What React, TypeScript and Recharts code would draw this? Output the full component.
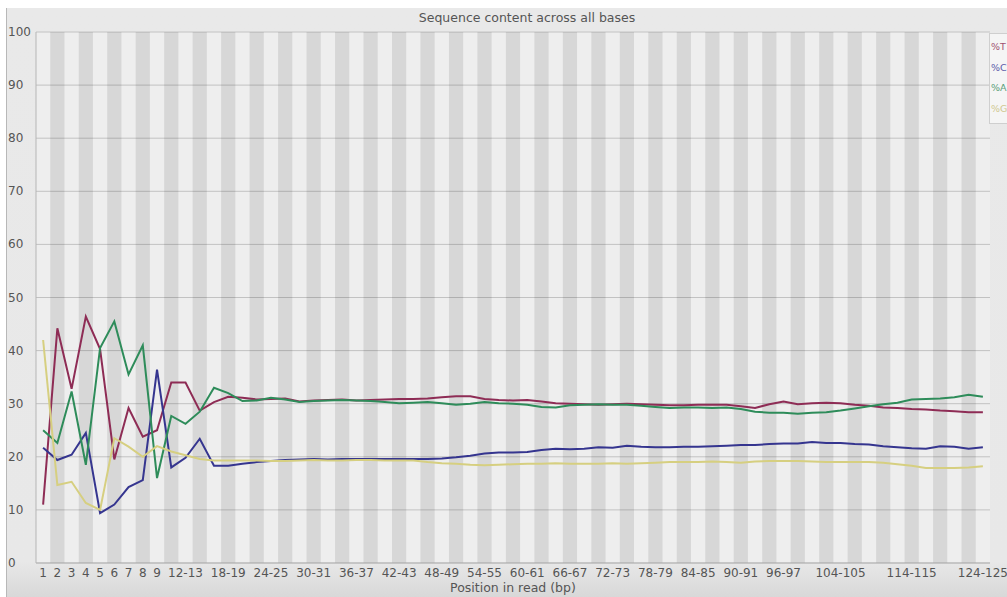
import { LineChart, Line, XAxis, YAxis, CartesianGrid, ReferenceArea, Legend } from 'recharts'

// FastQC style position groups: 1..9 single, then pairs up to 124-125
const categories = [
  '1', '2', '3', '4', '5', '6', '7', '8', '9',
  '10-11', '12-13', '14-15', '16-17', '18-19', '20-21', '22-23', '24-25', '26-27', '28-29',
  '30-31', '32-33', '34-35', '36-37', '38-39', '40-41', '42-43', '44-45', '46-47', '48-49',
  '50-51', '52-53', '54-55', '56-57', '58-59', '60-61', '62-63', '64-65', '66-67', '68-69',
  '70-71', '72-73', '74-75', '76-77', '78-79', '80-81', '82-83', '84-85', '86-87', '88-89',
  '90-91', '92-93', '94-95', '96-97', '98-99', '100-101', '102-103', '104-105', '106-107',
  '108-109', '110-111', '112-113', '114-115', '116-117', '118-119', '120-121', '122-123', '124-125',
]

// which categories get a label on the x axis
const labelledCategories = [0, 1, 2, 3, 4, 5, 6, 7, 8, 10, 13, 16, 19, 22, 25, 28, 31, 34, 37, 40, 43, 46, 49, 52, 56, 61, 66]
const yTicks = [0, 10, 20, 30, 40, 50, 60, 70, 80, 90, 100]

const tValues = [
  11, 44.2, 32.8, 46.4, 40.3, 19.5, 29.2, 23.8, 25, 34, 34, 28.7, 30.3, 31.3,
  31.1, 30.8, 30.9, 31.0, 30.4, 30.6, 30.7, 30.8, 30.6, 30.7, 30.8, 30.9, 30.9, 31.0, 31.2, 31.4,
  31.4, 30.9, 30.7, 30.6, 30.7, 30.4, 30.1, 30.0, 29.9, 29.8, 29.9, 30.0, 29.9, 29.8, 29.7, 29.7,
  29.8, 29.8, 29.8, 29.5, 29.2, 29.9, 30.4, 29.9, 30.1, 30.2, 30.1, 29.8, 29.6, 29.3, 29.2, 29.0,
  28.9, 28.7, 28.6, 28.4, 28.4,
]
const cValues = [
  21.7, 19.4, 20.4, 24.5, 9.4, 11, 14.3, 15.6, 36.4, 18, 19.8, 23.4, 18.3, 18.3,
  18.7, 19.0, 19.2, 19.4, 19.5, 19.6, 19.5, 19.6, 19.6, 19.6, 19.6, 19.6, 19.6, 19.6, 19.7, 19.9,
  20.2, 20.6, 20.8, 20.8, 20.9, 21.3, 21.5, 21.4, 21.5, 21.8, 21.7, 22.1, 21.9, 21.8, 21.8, 21.9,
  21.9, 22.0, 22.1, 22.2, 22.2, 22.4, 22.5, 22.5, 22.8, 22.6, 22.6, 22.4, 22.3, 22.0, 21.8, 21.6,
  21.5, 22.0, 21.9, 21.5, 21.8,
]
const aValues = [
  25, 22.6, 32.3, 18.5, 40.5, 45.5, 35.5, 41, 16, 27.7, 26.2, 28.5, 33, 32,
  30.5, 30.6, 31.1, 30.8, 30.3, 30.5, 30.6, 30.7, 30.6, 30.5, 30.3, 30.1, 30.2, 30.3, 30.1, 29.8,
  30.0, 30.3, 30.1, 30.0, 29.8, 29.4, 29.3, 29.7, 29.8, 29.9, 29.8, 29.8, 29.6, 29.4, 29.2, 29.3,
  29.3, 29.2, 29.3, 29.0, 28.5, 28.3, 28.3, 28.1, 28.3, 28.4, 28.7, 29.1, 29.5, 29.9, 30.2, 30.8,
  30.9, 31.0, 31.2, 31.7, 31.3,
]
const gValues = [
  42, 14.7, 15.3, 11.3, 10, 23.5, 21.9, 20, 22, 21, 20.3, 19.6, 19.3, 19.3,
  19.3, 19.3, 19.2, 19.2, 19.3, 19.4, 19.3, 19.3, 19.4, 19.4, 19.3, 19.3, 19.3, 19.0, 18.8, 18.7,
  18.5, 18.4, 18.5, 18.6, 18.7, 18.7, 18.8, 18.7, 18.7, 18.7, 18.8, 18.7, 18.8, 18.9, 19.0, 19.0,
  19.0, 19.1, 19.0, 18.9, 19.1, 19.2, 19.2, 19.2, 19.1, 19.0, 19.0, 19.0, 19.0, 18.9, 18.6, 18.3,
  17.9, 17.9, 17.9, 18.0, 18.2,
]

const series = [
  { key: 'T', name: '%T', color: '#8e2c55', legendColor: '#a05070' },
  { key: 'C', name: '%C', color: '#35358f', legendColor: '#5a5aa8' },
  { key: 'A', name: '%A', color: '#2e8c5a', legendColor: '#5a9e78' },
  { key: 'G', name: '%G', color: '#d6cf80', legendColor: '#d0c890' },
]

const data = categories.map((label, i) => ({
  pos: i,
  label,
  T: tValues[i],
  C: cValues[i],
  A: aValues[i],
  G: gValues[i],
}))

const darkStripes = categories.map((_, i) => i).filter((i) => i % 2 === 1)

const YTick = ({ y, payload }: any) => (
  <text x={1} y={y} dy={4} fill="#555" fontSize={12} textAnchor="start">
    {payload.value}
  </text>
)

const LegendBox = () => (
  <div
    style={{
      background: '#f5f5f5',
      border: '1px solid #cfcfcf',
      borderRight: 'none',
      padding: '3px 0 4px 1px',
      fontSize: 9.5,
      lineHeight: '20.5px',
      whiteSpace: 'nowrap',
    }}
  >
    {series.map((s) => (
      <div key={s.key} style={{ color: s.legendColor }}>{s.name}</div>
    ))}
  </div>
)

export default function App() {
  return (
    <div
      style={{
        position: 'fixed',
        left: 0,
        top: 0,
        width: 1007,
        height: 597,
        background: '#fff',
        overflow: 'hidden',
        fontFamily: '"DejaVu Sans", sans-serif',
      }}
    >
      <div
        style={{
          position: 'absolute',
          left: 6,
          top: 8,
          width: 1000,
          height: 589,
          borderLeft: '1px solid #b8b8b8',
          background: 'linear-gradient(to bottom, #e9e9e9 0%, #e8e8e8 94%, #d8d8d8 100%)',
        }}
      >
        <div
          style={{
            position: 'absolute',
            top: 2,
            left: 520,
            transform: 'translateX(-50%)',
            fontSize: 12.5,
            color: '#555',
            whiteSpace: 'nowrap',
          }}
        >
          Sequence content across all bases
        </div>
        <LineChart width={1000} height={589} data={data} margin={{ top: 24, right: 17, bottom: 0, left: 0 }}>
          <CartesianGrid vertical={false} stroke="#c2c2c2" fill="#eeeeee" fillOpacity={1} />
          {darkStripes.map((i) => (
            <ReferenceArea
              key={i}
              x1={i - 0.5}
              x2={i + 0.5}
              y1={0}
              y2={100}
              fill="#000"
              fillOpacity={0.095}
              stroke="none"
            />
          ))}
          <XAxis
            dataKey="pos"
            type="number"
            domain={[-0.5, categories.length - 0.5]}
            ticks={labelledCategories}
            interval={0}
            tickFormatter={(i: number) => categories[i]}
            height={34}
            tickSize={0}
            tickMargin={5}
            tick={{ fill: '#555', fontSize: 12 }}
            axisLine={{ stroke: '#b5b5b5' }}
            label={{ value: 'Position in read (bp)', position: 'insideBottom', offset: 5, fill: '#555', fontSize: 12.5 }}
          />
          <YAxis
            type="number"
            domain={[0, 100]}
            ticks={yTicks}
            interval={0}
            width={29}
            tickLine={false}
            tick={<YTick />}
            axisLine={{ stroke: '#b5b5b5' }}
          />
          <Legend
            layout="horizontal"
            verticalAlign="middle"
            align="center"
            content={<LegendBox />}
            wrapperStyle={{ position: 'absolute', left: 982, top: 25, width: 24, height: 'auto' }}
          />
          {series.map((s) => (
            <Line
              key={s.key}
              type="linear"
              dataKey={s.key}
              name={s.name}
              stroke={s.color}
              strokeWidth={2}
              dot={false}
              isAnimationActive={false}
            />
          ))}
        </LineChart>
      </div>
    </div>
  )
}
